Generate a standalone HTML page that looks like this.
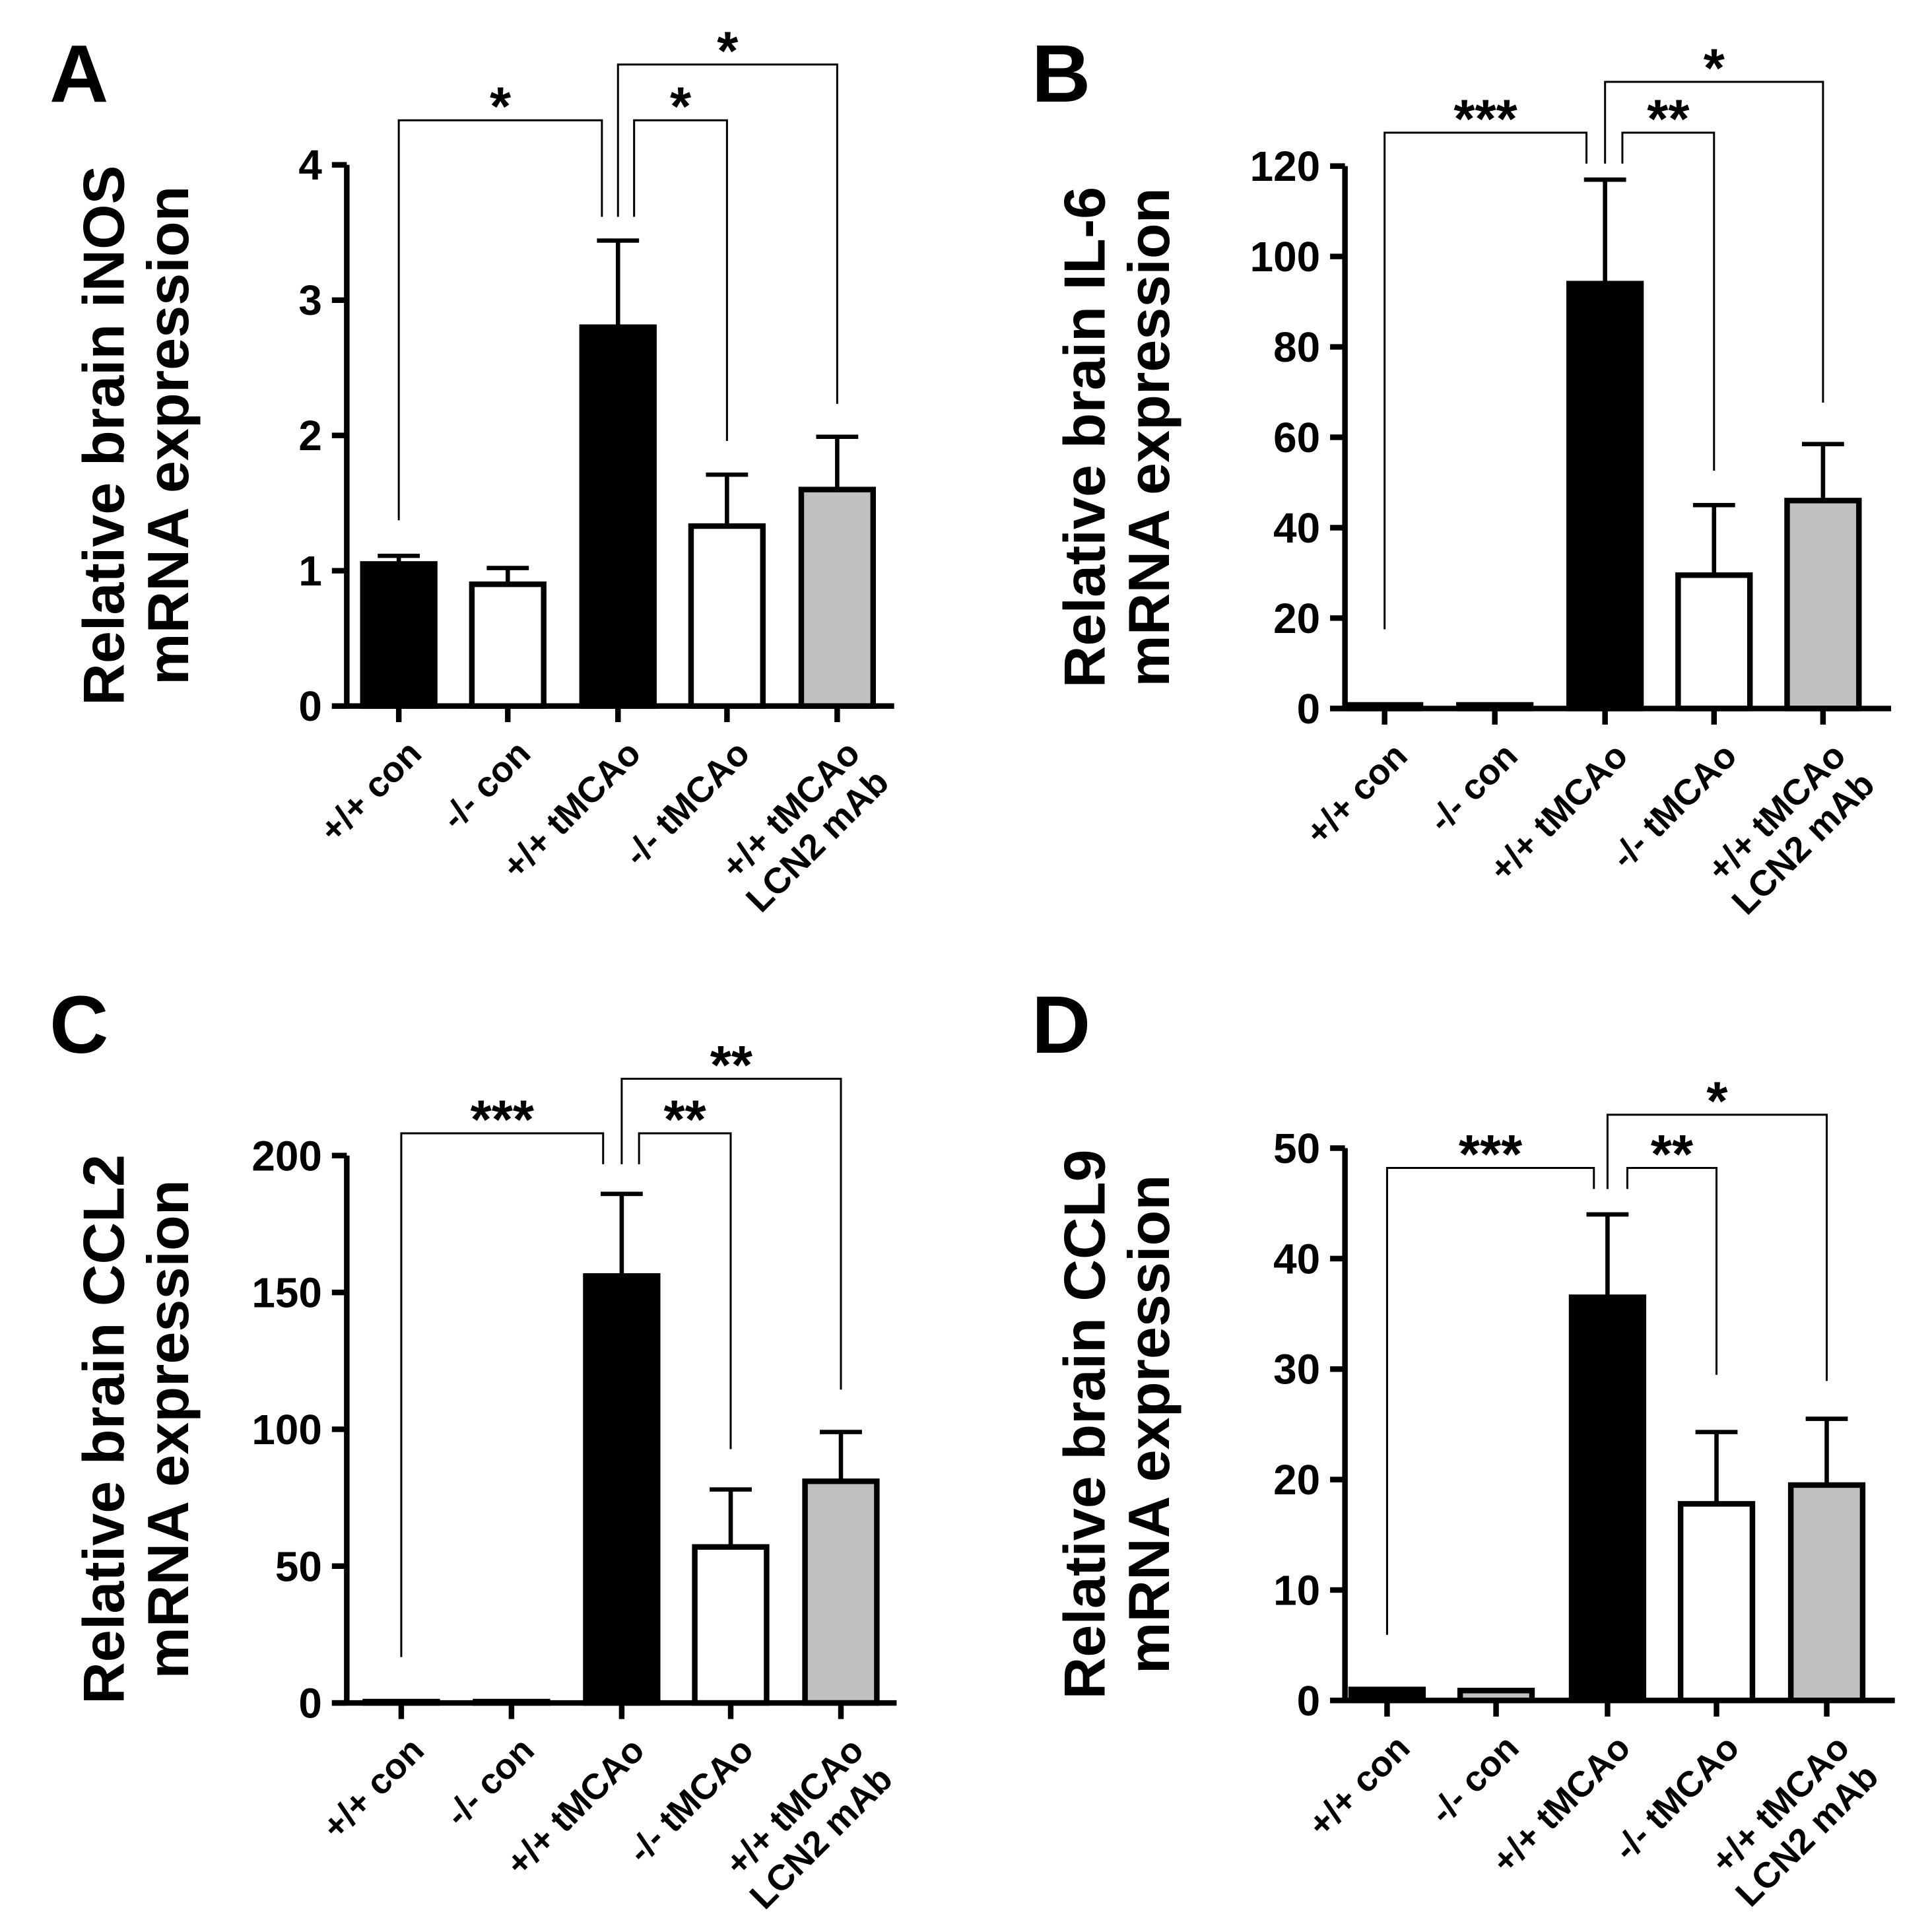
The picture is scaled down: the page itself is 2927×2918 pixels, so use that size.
<!DOCTYPE html>
<html><head><meta charset="utf-8"><style>
html,body{margin:0;padding:0;background:#fff;}
svg{display:block;}
text{font-family:"Liberation Sans",Arial,sans-serif;font-weight:bold;fill:#000;}
</style></head><body>
<svg id="fig" width="2927" height="2918" viewBox="0 0 1560 1555" xmlns="http://www.w3.org/2000/svg">
<rect width="1560" height="1555" fill="#fff"/>
</svg>
<script>
const categories = ["+/+ con", "-/- con", "+/+ tMCAo", "-/- tMCAo", "+/+ tMCAo|LCN2 mAb"];
const fills = ["#000", "#fff", "#000", "#fff", "#c0c0c0"];
const fillsD = ["#000", "#c0c0c0", "#000", "#fff", "#c0c0c0"];

const inosMeans = [1.05, 0.9, 2.8, 1.33, 1.6];
const inosErr = [0.06, 0.12, 0.64, 0.38, 0.39];
const inosTicks = [0, 1, 2, 3, 4];

const il6Means = [0.8, 0.8, 94, 29.5, 46];
const il6Err = [0, 0, 23, 15.5, 12.5];
const il6Ticks = [0, 20, 40, 60, 80, 100, 120];

const ccl2Means = [0.5, 0.5, 156, 57, 81];
const ccl2Err = [0, 0, 30, 21, 18];
const ccl2Ticks = [0, 50, 100, 150, 200];

const ccl9Means = [1.0, 0.9, 36.5, 17.8, 19.5];
const ccl9Err = [0, 0, 7.5, 6.5, 6];
const ccl9Ticks = [0, 10, 20, 30, 40, 50];

const svg = document.getElementById('fig');
const NS = "http://www.w3.org/2000/svg";
function mk(tag, attrs, parent) {
  const e = document.createElementNS(NS, tag);
  for (const k in attrs) e.setAttribute(k, attrs[k]);
  (parent || svg).appendChild(e);
  return e;
}

function panel(p) {
  const g = mk('g', {});
  
  
  const max = p.ticks[p.ticks.length - 1];
  const y = v => p.y0 - (v / max) * (p.y0 - p.yTop);
  const x = i => p.xs[i];

  const letter = mk('text', {x: p.lx, y: p.ly, 'font-size': 66}, g);
  letter.textContent = p.letter;
  
  

  const t = mk('text', {transform: `translate(${p.titleX},${(p.y0 + p.yTop) / 2}) rotate(-90)`, 'text-anchor': 'middle', 'font-size': 47}, g);
  
  
  const t1 = mk('tspan', {x: 0, y: 0}, t); t1.textContent = p.title1;
  const t2 = mk('tspan', {x: 0, y: 52}, t); t2.textContent = 'mRNA expression';

  p.means.forEach((m, i) => {
    const w = 58;
    const top = y(m);
    if (p.err[i] > 0) {
      const e = mk('path', {d: `M${x(i)},${top} V${y(m + p.err[i])} M${x(i) - 17},${y(m + p.err[i])} H${x(i) + 17}`, stroke: '#000', 'stroke-width': 3.5, fill: 'none'}, g);
      
      
    }
    const r = mk('rect', {x: x(i) - w / 2, y: top, width: w, height: Math.max(p.y0 - top, 1), fill: p.fills[i], stroke: '#000', 'stroke-width': 4.5}, g);
    
    
  });

  const ax = mk('path', {d: `M${p.axX},${p.yTop} V${p.y0} M${p.axX - 12},${p.y0} H${p.axEnd}`, stroke: '#000', 'stroke-width': 4.5, fill: 'none'}, g);
  
  
  p.ticks.forEach(v => {
    mk('line', {x1: p.axX - 12, x2: p.axX, y1: y(v), y2: y(v), stroke: '#000', 'stroke-width': 4.5}, g);
    const tl = mk('text', {x: p.axX - 20, y: y(v) + 12, 'text-anchor': 'end', 'font-size': 34}, g);
    tl.textContent = v;
    
    
  });
  categories.forEach((c, i) => {
    mk('line', {x1: x(i), x2: x(i), y1: p.y0, y2: p.y0 + 13, stroke: '#000', 'stroke-width': 4.5}, g);
    const parts = c.split('|');
    const lt = mk('text', {transform: `translate(${x(i) + 20},${p.y0 + 40}) rotate(-45)`, 'text-anchor': 'end', 'font-size': 29}, g);
    
    
    parts.forEach((s, k) => {
      const ts = mk('tspan', {x: 0, y: k * 33}, lt);
      ts.textContent = s;
    });
  });

  p.brackets.forEach(b => {
    const d = `M${b.x1},${b.b1} V${b.top} H${b.x2} V${b.b2}`;
    const br = mk('path', {d: d, stroke: '#000', 'stroke-width': 1.6, fill: 'none'}, g);
    
    
    const st = mk('text', {x: (b.x1 + b.x2) / 2, y: b.top + 4, 'text-anchor': 'middle', 'font-size': 44}, g);
    st.textContent = b.label;
    
    
  });
}

panel({letter: 'A', lx: 40, ly: 82, titleX: 100, title1: 'Relative brain iNOS',
  means: inosMeans, err: inosErr, ticks: inosTicks, fills: fills,
  axX: 280, axEnd: 722, y0: 570, yTop: 133, xs: [322, 410, 499, 587, 676],
  brackets: [
    {x1: 322, b1: 420, x2: 486, b2: 175, top: 97, label: '*'},
    {x1: 512, b1: 175, x2: 587, b2: 356, top: 97, label: '*'},
    {x1: 499, b1: 175, x2: 676, b2: 326, top: 52, label: '*'}]});

panel({letter: 'B', lx: 833, ly: 82, titleX: 892, title1: 'Relative brain IL-6',
  means: il6Means, err: il6Err, ticks: il6Ticks, fills: fills,
  axX: 1086, axEnd: 1527, y0: 572, yTop: 134, xs: [1118, 1207, 1296, 1384, 1472],
  brackets: [
    {x1: 1118, b1: 508, x2: 1281, b2: 132, top: 107, label: '***'},
    {x1: 1310, b1: 132, x2: 1384, b2: 380, top: 107, label: '**'},
    {x1: 1296, b1: 132, x2: 1472, b2: 325, top: 66, label: '*'}]});

panel({letter: 'C', lx: 40, ly: 850, titleX: 100, title1: 'Relative brain CCL2',
  means: ccl2Means, err: ccl2Err, ticks: ccl2Ticks, fills: fills,
  axX: 280, axEnd: 724, y0: 1375, yTop: 933, xs: [324, 413, 502, 590, 679],
  brackets: [
    {x1: 324, b1: 1338, x2: 487, b2: 940, top: 915, label: '***'},
    {x1: 516, b1: 940, x2: 590, b2: 1170, top: 915, label: '**'},
    {x1: 502, b1: 940, x2: 679, b2: 1122, top: 871, label: '**'}]});

panel({letter: 'D', lx: 833, ly: 850, titleX: 892, title1: 'Relative brain CCL9',
  means: ccl9Means, err: ccl9Err, ticks: ccl9Ticks, fills: fillsD,
  axX: 1086, axEnd: 1530, y0: 1373, yTop: 927, xs: [1120, 1208, 1298, 1386, 1475],
  brackets: [
    {x1: 1120, b1: 1320, x2: 1287, b2: 960, top: 943, label: '***'},
    {x1: 1314, b1: 960, x2: 1386, b2: 1110, top: 943, label: '**'},
    {x1: 1298, b1: 960, x2: 1475, b2: 1115, top: 900, label: '*'}]});
</script>
</body></html>
